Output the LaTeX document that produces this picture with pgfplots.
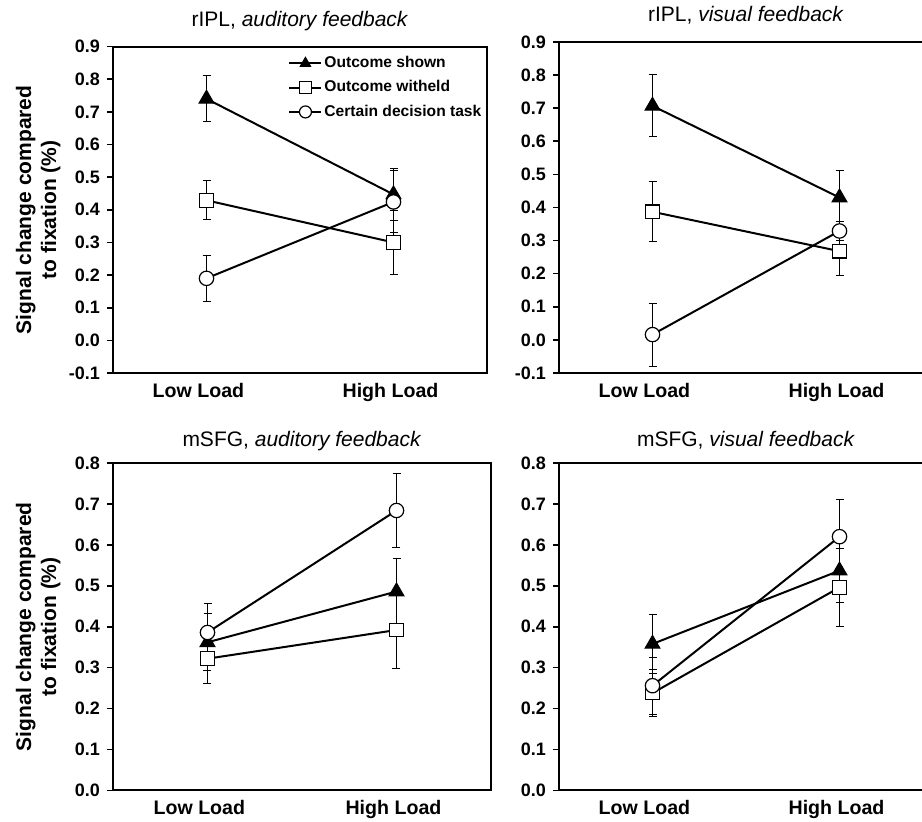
\documentclass[border=0pt]{standalone}
\usepackage{fontspec}
\setmainfont{Liberation Sans}
\usepackage{pgfplots}
\pgfplotsset{compat=1.18}

\pgfplotsset{
  every axis title shift=0pt,
  panel/.style={
    scale only axis,
    xmin=0.5, xmax=2.5,
    xtick={0.957,1.984},
    xticklabels={Low Load, High Load},
    x tick label style={font=\bfseries\fontsize{9.8}{11}\selectfont, yshift=1.5pt},
    major x tick style={draw=none},
    ytick distance=0.1,
    ytick pos=left,
    tick align=outside,
    major tick length=3pt,
    y tick style={line width=0.8pt, black},
    y tick label style={font=\bfseries\fontsize{9}{10}\selectfont, /pgf/number format/fixed, /pgf/number format/fixed zerofill, /pgf/number format/precision=1},
    /pgf/number format/assume math mode=true,
    axis line style={line width=1pt},
    title style={font=\fontsize{10.5}{12}\selectfont, at={(0.5,1)}, anchor=base},
    every axis plot/.append style={line width=1pt, black},
    error bars/y dir=both,
    error bars/y explicit,
    error bars/error bar style={line width=0.5pt, black},
    error bars/error mark options={rotate=90, mark size=2pt, line width=0.5pt, black},
    legend image code/.code={\draw[mark repeat=2,mark phase=2,#1,mark size=3pt] plot coordinates {(0pt,0pt) (8pt,0pt) (16pt,0pt)};},
  },
  ylab/.style={
    ylabel={Signal change compared\\to fixation (\%)},
    ylabel style={align=center, font=\bfseries\fontsize{10.5}{12.5}\selectfont, at={(axis description cs:#1,0.5)}, anchor=center},
  },
  shown/.style={mark=triangle*, mark size=4.3pt, mark options={fill=black, solid, line width=0.5pt}},
  withheld/.style={mark=square*, mark size=3.4pt, mark options={fill=white, solid, line width=0.6pt}},
  certain/.style={mark=*, mark size=3.6pt, mark options={fill=white, solid, line width=0.6pt}},
}

\begin{document}
\begin{tikzpicture}
% top-left
\begin{axis}[panel, ylab=-0.200, at={(56.5pt,224.5pt)}, anchor=south west, width=187pt, height=163.2pt,
  ymin=-0.1, ymax=0.9, title={rIPL, \textit{auditory feedback}}, title style={yshift=10pt},
  legend cell align=left,
  legend style={draw=none, fill=none, at={(0.468,0.978)}, anchor=north west, inner sep=0pt, row sep=3pt,
    nodes={inner sep=1pt},
    font=\bfseries\fontsize{7.8}{9}\selectfont}]
\addplot[shown] coordinates {(1,0.740) +- (0,0.07) (2,0.447) +- (0,0.08)};
\addlegendentry{Outcome shown}
\addplot[withheld] coordinates {(1,0.429) +- (0,0.06) (2,0.300) +- (0,0.097)};
\addlegendentry{Outcome witheld}
\addplot[certain] coordinates {(1,0.190) +- (0,0.07) (2,0.424) +- (0,0.095)};
\addlegendentry{Certain decision task}
\end{axis}
% top-right
\begin{axis}[panel, at={(279.5pt,224.5pt)}, anchor=south west, width=187pt, height=165.5pt,
  ymin=-0.1, ymax=0.9, title={rIPL, \textit{visual feedback}}, title style={yshift=10pt}]
\addplot[shown] coordinates {(1,0.707) +- (0,0.094) (2,0.430) +- (0,0.083)};
\addplot[withheld] coordinates {(1,0.387) +- (0,0.09) (2,0.268) +- (0,0.075)};
\addplot[certain] coordinates {(1,0.016) +- (0,0.095) (2,0.329) +- (0,0.03)};
\end{axis}
% bottom-left
\begin{axis}[panel, ylab=-0.198, at={(56.5pt,15.75pt)}, anchor=south west, width=189pt, height=163.75pt,
  ymin=0, ymax=0.8, title={mSFG, \textit{auditory feedback}}, title style={yshift=8pt}]
\addplot[shown] coordinates {(1,0.362) +- (0,0.07) (2,0.486) +- (0,0.08)};
\addplot[withheld] coordinates {(1,0.322) +- (0,0.06) (2,0.392) +- (0,0.093)};
\addplot[certain] coordinates {(1,0.386) +- (0,0.07) (2,0.684) +- (0,0.09)};
\end{axis}
% bottom-right
\begin{axis}[panel, at={(279.5pt,15.75pt)}, anchor=south west, width=187pt, height=163.75pt,
  ymin=0, ymax=0.8, title={mSFG, \textit{visual feedback}}, title style={yshift=8pt}]
\addplot[shown] coordinates {(1,0.358) +- (0,0.072) (2,0.537) +- (0,0.077)};
\addplot[withheld] coordinates {(1,0.238) +- (0,0.057) (2,0.496) +- (0,0.096)};
\addplot[certain] coordinates {(1,0.256) +- (0,0.07) (2,0.620) +- (0,0.09)};
\end{axis}
\pgfresetboundingbox
\path[use as bounding box] (0pt,0pt) rectangle (461pt,411pt);
\end{tikzpicture}
\end{document}
